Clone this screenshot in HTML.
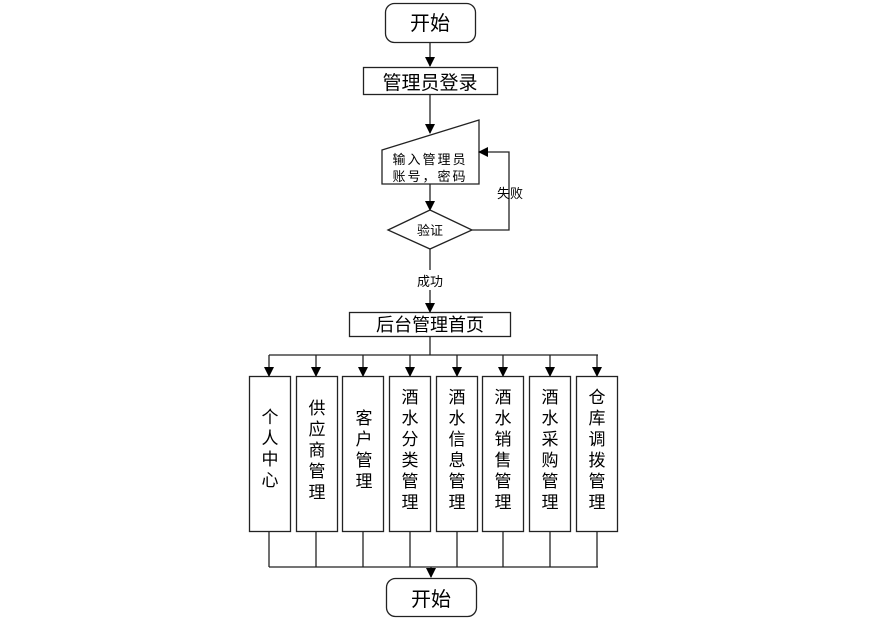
<!DOCTYPE html>
<html><head><meta charset="utf-8"><style>body{margin:0;background:#fff}svg{display:block}text{font-family:"Liberation Sans","Noto Sans CJK SC",sans-serif;fill:#000}</style></head><body>
<svg width="873" height="624" viewBox="0 0 873 624" xmlns="http://www.w3.org/2000/svg">
<defs><marker id="a" markerWidth="10" markerHeight="10" refX="9" refY="5" orient="auto" markerUnits="userSpaceOnUse"><path d="M0,0L10,5L0,10z" fill="#000"/></marker></defs>
<g stroke="#222" stroke-width="1.3" fill="none">
<rect x="385.5" y="3.5" width="90" height="39" rx="9" fill="#fff"/>
<line x1="430" y1="42" x2="430" y2="66" marker-end="url(#a)"/>
<rect x="363.5" y="67.5" width="134" height="27" fill="#fff"/>
<line x1="430" y1="95" x2="430" y2="133" marker-end="url(#a)"/>
<path d="M382,150L479,120L479,184L382,184Z" fill="#fff"/>
<line x1="430" y1="184" x2="430" y2="210" marker-end="url(#a)"/>
<path d="M388,230L430,210L472,230L430,249Z" fill="#fff"/>
<polyline points="472,230 509,230 509,152 479,152" marker-end="url(#a)"/>
<line x1="430" y1="249" x2="430" y2="270"/>
<line x1="430" y1="290" x2="430" y2="312" marker-end="url(#a)"/>
<rect x="349.5" y="312.5" width="161" height="24" fill="#fff"/>
<line x1="430" y1="336" x2="430" y2="355"/>
<line x1="269" y1="355" x2="598" y2="355"/>
<line x1="269" y1="567" x2="598" y2="567"/>
<line x1="431" y1="567" x2="431" y2="577" marker-end="url(#a)"/>
<rect x="386.5" y="578.5" width="90" height="38" rx="9" fill="#fff"/>
</g>
<g stroke="#222" stroke-width="1.3" fill="none">
<g id="c">
</g>
</g>
<g stroke="#222" stroke-width="1.3">
<line x1="269" y1="355" x2="269" y2="376" marker-end="url(#a)"/><line x1="269" y1="531" x2="269" y2="567"/><rect x="249.5" y="376.5" width="41" height="155" fill="#fff"/>
<line x1="316" y1="355" x2="316" y2="376" marker-end="url(#a)"/><line x1="316" y1="531" x2="316" y2="567"/><rect x="296.5" y="376.5" width="41" height="155" fill="#fff"/>
<line x1="363" y1="355" x2="363" y2="376" marker-end="url(#a)"/><line x1="363" y1="531" x2="363" y2="567"/><rect x="342.5" y="376.5" width="41" height="155" fill="#fff"/>
<line x1="410" y1="355" x2="410" y2="376" marker-end="url(#a)"/><line x1="410" y1="531" x2="410" y2="567"/><rect x="389.5" y="376.5" width="41" height="155" fill="#fff"/>
<line x1="457" y1="355" x2="457" y2="376" marker-end="url(#a)"/><line x1="457" y1="531" x2="457" y2="567"/><rect x="436.5" y="376.5" width="41" height="155" fill="#fff"/>
<line x1="503" y1="355" x2="503" y2="376" marker-end="url(#a)"/><line x1="503" y1="531" x2="503" y2="567"/><rect x="482.5" y="376.5" width="41" height="155" fill="#fff"/>
<line x1="550" y1="355" x2="550" y2="376" marker-end="url(#a)"/><line x1="550" y1="531" x2="550" y2="567"/><rect x="529.5" y="376.5" width="41" height="155" fill="#fff"/>
<line x1="597" y1="355" x2="597" y2="376" marker-end="url(#a)"/><line x1="597" y1="531" x2="597" y2="567"/><rect x="576.5" y="376.5" width="41" height="155" fill="#fff"/>
</g>
<g text-anchor="middle">
<text x="430" y="30" font-size="20">开始</text>
<text x="431" y="606" font-size="20">开始</text>
<text x="430" y="89" font-size="19">管理员登录</text>
<text x="430" y="331" font-size="18">后台管理首页</text>
<text x="430" y="164" font-size="13" letter-spacing="2">输入管理员</text>
<text x="430" y="181" font-size="13" letter-spacing="2">账号，密码</text>
<text x="430" y="235" font-size="13">验证</text>
<text x="430" y="286" font-size="13">成功</text>
<text x="510" y="198" font-size="13">失败</text>
</g>
<g text-anchor="middle" font-size="17">
<text x="270" y="423">个</text><text x="270" y="444">人</text><text x="270" y="465">中</text><text x="270" y="486">心</text>
<text x="317" y="414">供</text><text x="317" y="435">应</text><text x="317" y="456">商</text><text x="317" y="477">管</text><text x="317" y="498">理</text>
<text x="364" y="424">客</text><text x="364" y="445">户</text><text x="364" y="466">管</text><text x="364" y="487">理</text>
<text x="410" y="403">酒</text><text x="410" y="424">水</text><text x="410" y="445">分</text><text x="410" y="466">类</text><text x="410" y="487">管</text><text x="410" y="508">理</text>
<text x="457" y="403">酒</text><text x="457" y="424">水</text><text x="457" y="445">信</text><text x="457" y="466">息</text><text x="457" y="487">管</text><text x="457" y="508">理</text>
<text x="503" y="403">酒</text><text x="503" y="424">水</text><text x="503" y="445">销</text><text x="503" y="466">售</text><text x="503" y="487">管</text><text x="503" y="508">理</text>
<text x="550" y="403">酒</text><text x="550" y="424">水</text><text x="550" y="445">采</text><text x="550" y="466">购</text><text x="550" y="487">管</text><text x="550" y="508">理</text>
<text x="597" y="403">仓</text><text x="597" y="424">库</text><text x="597" y="445">调</text><text x="597" y="466">拨</text><text x="597" y="487">管</text><text x="597" y="508">理</text>
</g>
</svg>
</body></html>
